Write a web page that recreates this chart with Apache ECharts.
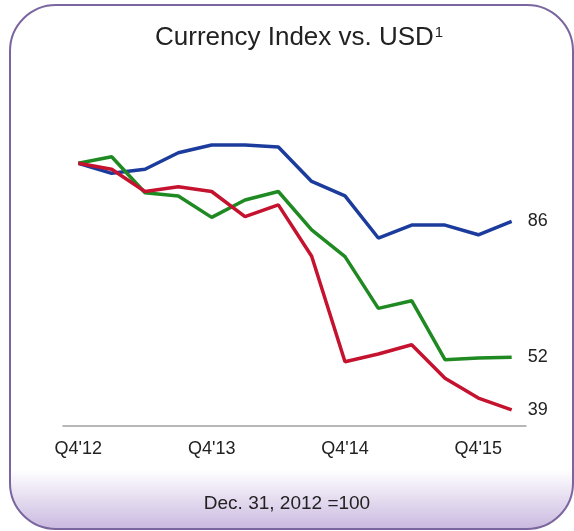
<!DOCTYPE html>
<html>
<head>
<meta charset="utf-8">
<script src="https://cdn.jsdelivr.net/npm/echarts@6/dist/echarts.min.js"></script>
<style>
  html, body {margin: 0; padding: 0; background: #fff;}
  #main {width: 574px; height: 531px;}
</style>
</head>
<body>
<div id="main"></div>
<script>
// quarters, Q4'12 .. Q1'16, indexed 100 at Dec. 31, 2012
const quarters = ["Q4'12", "Q1'13", "Q2'13", "Q3'13", "Q4'13", "Q1'14", "Q2'14",
  "Q3'14", "Q4'14", "Q1'15", "Q2'15", "Q3'15", "Q4'15", "Q1'16"];
const tickQuarters = [0, 4, 8, 12];
const blueValues = [100, 97.5, 98.5, 102.6, 104.5, 104.5, 104, 95.5, 91.9, 81.5, 84.7, 84.7, 82.3, 85.6];
const greenValues = [100, 101.6, 92.7, 91.9, 86.6, 90.9, 93, 83.5, 76.9, 64.1, 66, 51.4, 51.8, 52];
const redValues = [100, 98.5, 93, 94.2, 93, 86.8, 89.7, 77, 50.9, 52.8, 55.1, 46.8, 41.9, 39];

const font = 'Liberation Sans, Arial, sans-serif';
const toPoints = arr => arr.map((v, i) => [i, v]);

const makeSeries = (values, color) => ({
  type: 'line',
  data: toPoints(values),
  symbol: 'none',
  silent: true,
  lineStyle: {color: color, width: 3.5},
  endLabel: {
    show: true,
    distance: 16,
    color: '#222',
    fontSize: 18,
    fontFamily: font,
    formatter: p => String(Math.round(p.value[1]))
  }
});

const chart = echarts.init(document.getElementById('main'));
chart.setOption({
  animation: false,
  backgroundColor: '#fff',
  graphic: [{
    type: 'rect',
    z: -10,
    shape: {x: 10, y: 5, width: 563, height: 524, r: 46},
    style: {
      stroke: '#7a659f',
      lineWidth: 2,
      fill: new echarts.graphic.LinearGradient(0, 0, 0, 1, [
        {offset: 0, color: '#ffffff'},
        {offset: 0.885, color: '#ffffff'},
        {offset: 1, color: '#c9b8df'}
      ])
    }
  }, {
    type: 'text',
    left: 'center',
    top: 494,
    style: {text: 'Dec. 31, 2012 =100', fill: '#222', fontSize: 19, fontFamily: font}
  }],
  title: {
    text: 'Currency Index vs. USD{s|1}',
    left: 150,
    top: 20,
    textStyle: {
      color: '#222', fontSize: 26, fontWeight: 'normal', fontFamily: font,
      rich: {s: {fontSize: 15, color: '#222', fontFamily: font, verticalAlign: 'top', padding: [0, 0, 9, 1]}}
    }
  },
  grid: {left: 63, right: 48, top: 143, bottom: 105},
  xAxis: {
    type: 'value',
    min: -0.46,
    max: 13.43,
    splitLine: {show: false},
    axisTick: {show: false},
    axisLine: {show: true, lineStyle: {color: '#a0a0a0', width: 1.5}},
    axisLabel: {
      customValues: tickQuarters,
      margin: 14,
      color: '#222',
      fontSize: 18,
      fontFamily: font,
      formatter: v => quarters[v]
    }
  },
  yAxis: {
    type: 'value',
    min: 35,
    max: 105,
    show: false
  },
  series: [
    makeSeries(blueValues, '#1b3c9c'),
    makeSeries(greenValues, '#1f8a22'),
    makeSeries(redValues, '#c5122f')
  ]
});
</script>
</body>
</html>
